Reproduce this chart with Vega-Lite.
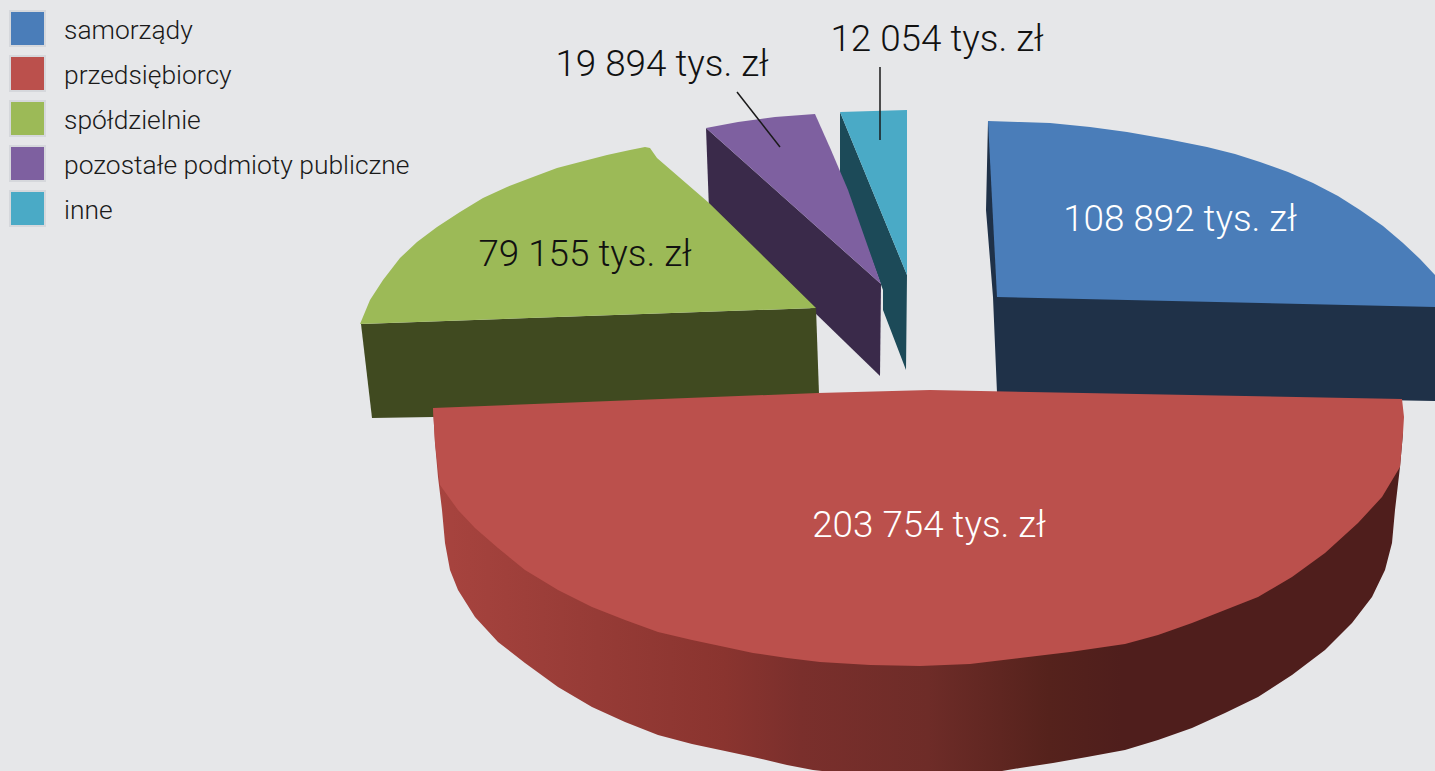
{"$schema":"https://vega.github.io/schema/vega-lite/v6.json","width":1435,"height":771,"padding":0,"autosize":"none","background":"#e6e7e9","config":{"view":{"stroke":null}},
"datasets":{"outline":[
{"slice":"inne","face":"side","i":0,"x":840,"y":112},{"slice":"inne","face":"side","i":1,"x":840,"y":173},{"slice":"inne","face":"side","i":2,"x":883,"y":290},{"slice":"inne","face":"side","i":3,"x":883,"y":310},{"slice":"inne","face":"side","i":4,"x":906,"y":370},{"slice":"inne","face":"side","i":5,"x":907,"y":275},
{"slice":"inne","face":"top","i":0,"x":840,"y":112},{"slice":"inne","face":"top","i":1,"x":907,"y":110},{"slice":"inne","face":"top","i":2,"x":907,"y":275},
{"slice":"pozostałe podmioty publiczne","face":"side","i":0,"x":706,"y":128},{"slice":"pozostałe podmioty publiczne","face":"side","i":1,"x":709,"y":210},{"slice":"pozostałe podmioty publiczne","face":"side","i":2,"x":880,"y":376},{"slice":"pozostałe podmioty publiczne","face":"side","i":3,"x":881,"y":284},
{"slice":"pozostałe podmioty publiczne","face":"top","i":0,"x":706,"y":128},{"slice":"pozostałe podmioty publiczne","face":"top","i":1,"x":738,"y":122},{"slice":"pozostałe podmioty publiczne","face":"top","i":2,"x":775,"y":117},{"slice":"pozostałe podmioty publiczne","face":"top","i":3,"x":815,"y":114},{"slice":"pozostałe podmioty publiczne","face":"top","i":4,"x":831,"y":150},{"slice":"pozostałe podmioty publiczne","face":"top","i":5,"x":848,"y":190},{"slice":"pozostałe podmioty publiczne","face":"top","i":6,"x":881,"y":284},
{"slice":"spółdzielnie","face":"side","i":0,"x":361,"y":324},{"slice":"spółdzielnie","face":"side","i":1,"x":372,"y":418},{"slice":"spółdzielnie","face":"side","i":2,"x":433,"y":417},{"slice":"spółdzielnie","face":"side","i":3,"x":819,"y":394},{"slice":"spółdzielnie","face":"side","i":4,"x":816,"y":308},
{"slice":"spółdzielnie","face":"top","i":0,"x":360,"y":324},{"slice":"spółdzielnie","face":"top","i":1,"x":370,"y":300},{"slice":"spółdzielnie","face":"top","i":2,"x":383,"y":280},{"slice":"spółdzielnie","face":"top","i":3,"x":400,"y":258},{"slice":"spółdzielnie","face":"top","i":4,"x":417,"y":242},{"slice":"spółdzielnie","face":"top","i":5,"x":437,"y":227},{"slice":"spółdzielnie","face":"top","i":6,"x":460,"y":212},{"slice":"spółdzielnie","face":"top","i":7,"x":483,"y":198},{"slice":"spółdzielnie","face":"top","i":8,"x":507,"y":187},{"slice":"spółdzielnie","face":"top","i":9,"x":533,"y":177},{"slice":"spółdzielnie","face":"top","i":10,"x":557,"y":168},{"slice":"spółdzielnie","face":"top","i":11,"x":580,"y":162},{"slice":"spółdzielnie","face":"top","i":12,"x":607,"y":155},{"slice":"spółdzielnie","face":"top","i":13,"x":630,"y":150},{"slice":"spółdzielnie","face":"top","i":14,"x":645,"y":147},{"slice":"spółdzielnie","face":"top","i":15,"x":650,"y":148},{"slice":"spółdzielnie","face":"top","i":16,"x":657,"y":158},{"slice":"spółdzielnie","face":"top","i":17,"x":709,"y":203},{"slice":"spółdzielnie","face":"top","i":18,"x":757,"y":250},{"slice":"spółdzielnie","face":"top","i":19,"x":816,"y":308},
{"slice":"samorządy","face":"side","i":0,"x":988,"y":121},{"slice":"samorządy","face":"side","i":1,"x":986,"y":210},{"slice":"samorządy","face":"side","i":2,"x":993,"y":297},{"slice":"samorządy","face":"side","i":3,"x":997,"y":393},{"slice":"samorządy","face":"side","i":4,"x":1435,"y":401},{"slice":"samorządy","face":"side","i":5,"x":1435,"y":305},
{"slice":"samorządy","face":"top","i":0,"x":988,"y":121},{"slice":"samorządy","face":"top","i":1,"x":1020,"y":122},{"slice":"samorządy","face":"top","i":2,"x":1050,"y":123},{"slice":"samorządy","face":"top","i":3,"x":1090,"y":127},{"slice":"samorządy","face":"top","i":4,"x":1127,"y":132},{"slice":"samorządy","face":"top","i":5,"x":1167,"y":139},{"slice":"samorządy","face":"top","i":6,"x":1207,"y":147},{"slice":"samorządy","face":"top","i":7,"x":1235,"y":154},{"slice":"samorządy","face":"top","i":8,"x":1260,"y":162},{"slice":"samorządy","face":"top","i":9,"x":1288,"y":172},{"slice":"samorządy","face":"top","i":10,"x":1313,"y":183},{"slice":"samorządy","face":"top","i":11,"x":1338,"y":196},{"slice":"samorządy","face":"top","i":12,"x":1360,"y":210},{"slice":"samorządy","face":"top","i":13,"x":1383,"y":226},{"slice":"samorządy","face":"top","i":14,"x":1403,"y":243},{"slice":"samorządy","face":"top","i":15,"x":1420,"y":259},{"slice":"samorządy","face":"top","i":16,"x":1435,"y":275},{"slice":"samorządy","face":"top","i":17,"x":1435,"y":307},{"slice":"samorządy","face":"top","i":18,"x":997,"y":297},
{"slice":"przedsiębiorcy","face":"side","i":0,"x":433,"y":408},{"slice":"przedsiębiorcy","face":"side","i":1,"x":435,"y":443},{"slice":"przedsiębiorcy","face":"side","i":2,"x":438,"y":477},{"slice":"przedsiębiorcy","face":"side","i":3,"x":442,"y":510},{"slice":"przedsiębiorcy","face":"side","i":4,"x":445,"y":543},{"slice":"przedsiębiorcy","face":"side","i":5,"x":450,"y":570},{"slice":"przedsiębiorcy","face":"side","i":6,"x":458,"y":590},{"slice":"przedsiębiorcy","face":"side","i":7,"x":475,"y":617},{"slice":"przedsiębiorcy","face":"side","i":8,"x":498,"y":642},{"slice":"przedsiębiorcy","face":"side","i":9,"x":525,"y":663},{"slice":"przedsiębiorcy","face":"side","i":10,"x":558,"y":687},{"slice":"przedsiębiorcy","face":"side","i":11,"x":592,"y":707},{"slice":"przedsiębiorcy","face":"side","i":12,"x":625,"y":722},{"slice":"przedsiębiorcy","face":"side","i":13,"x":658,"y":735},{"slice":"przedsiębiorcy","face":"side","i":14,"x":692,"y":744},{"slice":"przedsiębiorcy","face":"side","i":15,"x":725,"y":751},{"slice":"przedsiębiorcy","face":"side","i":16,"x":753,"y":757},{"slice":"przedsiębiorcy","face":"side","i":17,"x":787,"y":765},{"slice":"przedsiębiorcy","face":"side","i":18,"x":813,"y":770},{"slice":"przedsiębiorcy","face":"side","i":19,"x":840,"y":773},{"slice":"przedsiębiorcy","face":"side","i":20,"x":920,"y":776},{"slice":"przedsiębiorcy","face":"side","i":21,"x":990,"y":773},{"slice":"przedsiębiorcy","face":"side","i":22,"x":1020,"y":768},{"slice":"przedsiębiorcy","face":"side","i":23,"x":1053,"y":763},{"slice":"przedsiębiorcy","face":"side","i":24,"x":1087,"y":757},{"slice":"przedsiębiorcy","face":"side","i":25,"x":1125,"y":750},{"slice":"przedsiębiorcy","face":"side","i":26,"x":1158,"y":740},{"slice":"przedsiębiorcy","face":"side","i":27,"x":1192,"y":728},{"slice":"przedsiębiorcy","face":"side","i":28,"x":1225,"y":713},{"slice":"przedsiębiorcy","face":"side","i":29,"x":1258,"y":697},{"slice":"przedsiębiorcy","face":"side","i":30,"x":1292,"y":675},{"slice":"przedsiębiorcy","face":"side","i":31,"x":1325,"y":650},{"slice":"przedsiębiorcy","face":"side","i":32,"x":1352,"y":623},{"slice":"przedsiębiorcy","face":"side","i":33,"x":1372,"y":597},{"slice":"przedsiębiorcy","face":"side","i":34,"x":1385,"y":570},{"slice":"przedsiębiorcy","face":"side","i":35,"x":1392,"y":543},{"slice":"przedsiębiorcy","face":"side","i":36,"x":1395,"y":510},{"slice":"przedsiębiorcy","face":"side","i":37,"x":1400,"y":467},{"slice":"przedsiębiorcy","face":"side","i":38,"x":1403,"y":433},
{"slice":"przedsiębiorcy","face":"top","i":0,"x":433,"y":408},{"slice":"przedsiębiorcy","face":"top","i":1,"x":818,"y":393},{"slice":"przedsiębiorcy","face":"top","i":2,"x":930,"y":390},{"slice":"przedsiębiorcy","face":"top","i":3,"x":1402,"y":399},{"slice":"przedsiębiorcy","face":"top","i":4,"x":1404,"y":417},{"slice":"przedsiębiorcy","face":"top","i":5,"x":1403,"y":433},{"slice":"przedsiębiorcy","face":"top","i":6,"x":1400,"y":467},{"slice":"przedsiębiorcy","face":"top","i":7,"x":1382,"y":497},{"slice":"przedsiębiorcy","face":"top","i":8,"x":1358,"y":523},{"slice":"przedsiębiorcy","face":"top","i":9,"x":1325,"y":553},{"slice":"przedsiębiorcy","face":"top","i":10,"x":1292,"y":577},{"slice":"przedsiębiorcy","face":"top","i":11,"x":1258,"y":597},{"slice":"przedsiębiorcy","face":"top","i":12,"x":1225,"y":610},{"slice":"przedsiębiorcy","face":"top","i":13,"x":1192,"y":623},{"slice":"przedsiębiorcy","face":"top","i":14,"x":1158,"y":635},{"slice":"przedsiębiorcy","face":"top","i":15,"x":1125,"y":644},{"slice":"przedsiębiorcy","face":"top","i":16,"x":1070,"y":652},{"slice":"przedsiębiorcy","face":"top","i":17,"x":1020,"y":658},{"slice":"przedsiębiorcy","face":"top","i":18,"x":970,"y":664},{"slice":"przedsiębiorcy","face":"top","i":19,"x":920,"y":666},{"slice":"przedsiębiorcy","face":"top","i":20,"x":870,"y":665},{"slice":"przedsiębiorcy","face":"top","i":21,"x":820,"y":662},{"slice":"przedsiębiorcy","face":"top","i":22,"x":787,"y":658},{"slice":"przedsiębiorcy","face":"top","i":23,"x":753,"y":653},{"slice":"przedsiębiorcy","face":"top","i":24,"x":725,"y":647},{"slice":"przedsiębiorcy","face":"top","i":25,"x":692,"y":640},{"slice":"przedsiębiorcy","face":"top","i":26,"x":658,"y":632},{"slice":"przedsiębiorcy","face":"top","i":27,"x":625,"y":620},{"slice":"przedsiębiorcy","face":"top","i":28,"x":592,"y":607},{"slice":"przedsiębiorcy","face":"top","i":29,"x":558,"y":590},{"slice":"przedsiębiorcy","face":"top","i":30,"x":525,"y":570},{"slice":"przedsiębiorcy","face":"top","i":31,"x":498,"y":548},{"slice":"przedsiębiorcy","face":"top","i":32,"x":475,"y":528},{"slice":"przedsiębiorcy","face":"top","i":33,"x":458,"y":510},{"slice":"przedsiębiorcy","face":"top","i":34,"x":440,"y":485},{"slice":"przedsiębiorcy","face":"top","i":35,"x":435,"y":443}
],
"labels":[{"slice":"samorządy","label":"108 892 tys. zł","x":1180,"y":220,"tone":"light"},{"slice":"przedsiębiorcy","label":"203 754 tys. zł","x":929,"y":526,"tone":"light"},{"slice":"spółdzielnie","label":"79 155 tys. zł","x":585,"y":255,"tone":"dark"},{"slice":"pozostałe podmioty publiczne","label":"19 894 tys. zł","x":662,"y":65,"tone":"dark"},{"slice":"inne","label":"12 054 tys. zł","x":937,"y":40,"tone":"dark"}],
"leaders":[{"slice":"pozostałe podmioty publiczne","x":737,"y":92,"x2":780,"y2":147},{"slice":"inne","x":880,"y":67,"x2":880,"y2":140}]},
"layer":[
{"data":{"name":"outline"},"transform":[{"filter":"datum.face==='side' && datum.slice!=='przedsiębiorcy'"}],"mark":{"type":"line","clip":true,"strokeWidth":0},
"encoding":{"x":{"field":"x","type":"quantitative","scale":{"domain":[0,1435]},"axis":null},"y":{"field":"y","type":"quantitative","scale":{"domain":[771,0]},"axis":null},"order":{"field":"i","type":"quantitative"},"detail":{"field":"slice"},
"fill":{"field":"slice","type":"nominal","legend":null,"scale":{"domain":["samorządy","spółdzielnie","pozostałe podmioty publiczne","inne"],"range":["#1f3148","#404a20","#3a2a4a","#1c4a58"]}}}},
{"data":{"name":"outline"},"transform":[{"filter":"datum.face==='side' && datum.slice==='przedsiębiorcy'"}],"mark":{"type":"line","clip":true,"strokeWidth":0,"fill":{"gradient":"linear","x1":0,"y1":0,"x2":1,"y2":0,"stops":[{"offset":0,"color":"#a8443f"},{"offset":0.17,"color":"#963b36"},{"offset":0.3,"color":"#8a342f"},{"offset":0.38,"color":"#7a2f2c"},{"offset":0.51,"color":"#6e2c28"},{"offset":0.635,"color":"#55221c"},{"offset":0.71,"color":"#4f1e1c"},{"offset":1,"color":"#4f1e1c"}]}},
"encoding":{"x":{"field":"x","type":"quantitative","scale":{"domain":[0,1435]},"axis":null},"y":{"field":"y","type":"quantitative","scale":{"domain":[771,0]},"axis":null},"order":{"field":"i","type":"quantitative"}}},
{"data":{"name":"outline"},"transform":[{"filter":"datum.face==='top'"}],"mark":{"type":"line","clip":true,"strokeWidth":0},
"encoding":{"x":{"field":"x","type":"quantitative","scale":{"domain":[0,1435]},"axis":null},"y":{"field":"y","type":"quantitative","scale":{"domain":[771,0]},"axis":null},"order":{"field":"i","type":"quantitative"},"detail":{"field":"slice"},
"fill":{"field":"slice","type":"nominal","scale":{"domain":["samorządy","przedsiębiorcy","spółdzielnie","pozostałe podmioty publiczne","inne"],"range":["#4a7db9","#bb504c","#9cba57","#7e60a0","#4aaac6"]},
"legend":{"title":null,"orient":"none","legendX":9,"legendY":10,"symbolType":"square","symbolSize":1225,"symbolStrokeColor":"#d6d8dc","symbolStrokeWidth":2,"symbolOpacity":1,"labelFont":"Roboto","labelFontWeight":300,"labelFontSize":26.4,"labelColor":"#1a1a1a","labelOffset":18,"rowPadding":2,"labelLimit":500,"encode":{"labels":{"update":{"dy":{"value":2}}}}}}}},
{"data":{"name":"leaders"},"mark":{"type":"rule","color":"#1a1a1a","strokeWidth":1.5},
"encoding":{"x":{"field":"x","type":"quantitative","scale":{"domain":[0,1435]},"axis":null},"y":{"field":"y","type":"quantitative","scale":{"domain":[771,0]},"axis":null},"x2":{"field":"x2"},"y2":{"field":"y2"}}},
{"data":{"name":"labels"},"mark":{"type":"text","font":"Roboto","fontWeight":300,"fontSize":36.8,"align":"center","baseline":"middle"},
"encoding":{"x":{"field":"x","type":"quantitative","scale":{"domain":[0,1435]},"axis":null},"y":{"field":"y","type":"quantitative","scale":{"domain":[771,0]},"axis":null},"text":{"field":"label"},
"color":{"field":"tone","type":"nominal","legend":null,"scale":{"domain":["light","dark"],"range":["#ffffff","#111111"]}}}}
],
"resolve":{"scale":{"fill":"independent","color":"independent"}}}
